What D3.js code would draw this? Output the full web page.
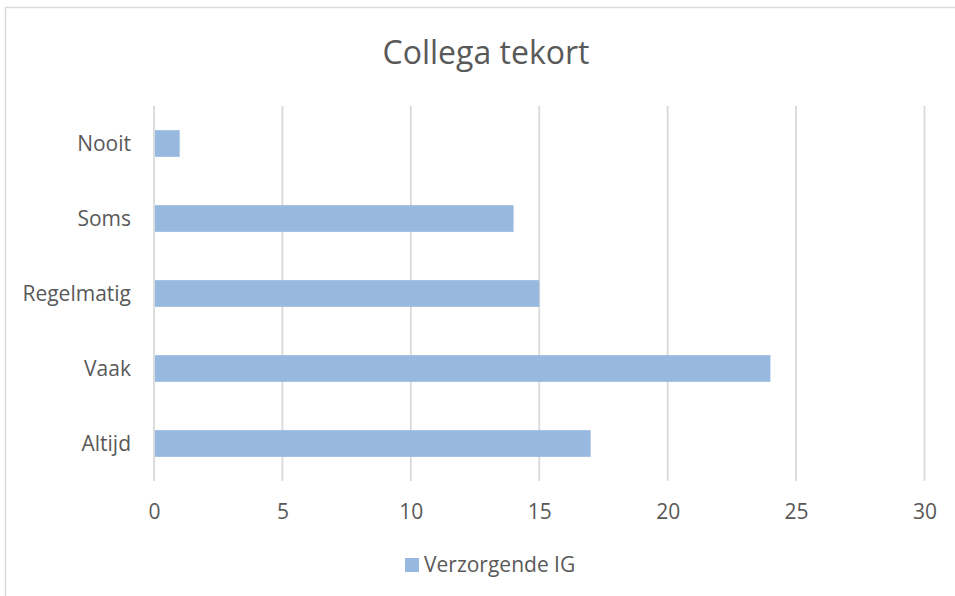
<!DOCTYPE html>
<html>
<head>
<meta charset="utf-8">
<script src="https://cdn.jsdelivr.net/npm/d3@7"></script>
<style>
  html, body { margin: 0; padding: 0; background: #fff; }
  svg { display: block; }
  text { font-family: "Open Sans", sans-serif; fill: #595959; }
</style>
</head>
<body>
<svg id="chart" width="955" height="596"></svg>
<script>
const title = "Collega tekort";
const categories = ["Nooit", "Soms", "Regelmatig", "Vaak", "Altijd"];
const seriesName = "Verzorgende IG";
const values = [1, 14, 15, 24, 17];
const xTicks = [0, 5, 10, 15, 20, 25, 30];

const svg = d3.select("#chart");
const W = 955, H = 596;
const margin = { left: 154, right: 955 - 924.5, top: 106, bottom: 596 - 481 };
const barColor = "#98b9df";
const gridColor = "#d9d9d9";

// outer border
svg.append("rect")
  .attr("x", 5.5).attr("y", 7.5)
  .attr("width", W + 10).attr("height", H + 10)
  .attr("fill", "#fff").attr("stroke", gridColor).attr("stroke-width", 1.5);

const x = d3.scaleLinear().domain([0, 30]).range([margin.left, W - margin.right]);
const y = d3.scaleBand().domain(categories).range([margin.top, H - margin.bottom]).paddingInner(0.644).paddingOuter(0.322);

// title
svg.append("text")
  .attr("x", 486).attr("y", 64)
  .attr("text-anchor", "middle")
  .attr("font-size", 32)
  .text(title);

// gridlines
svg.append("g").selectAll("line").data(xTicks).join("line")
  .attr("x1", d => x(d)).attr("x2", d => x(d))
  .attr("y1", margin.top).attr("y2", H - margin.bottom)
  .attr("stroke", gridColor).attr("stroke-width", 1.8);

// bars
svg.append("g").selectAll("rect").data(values).join("rect")
  .attr("x", x(0) + 1)
  .attr("y", (d, i) => y(categories[i]))
  .attr("width", d => x(d) - x(0) - 1)
  .attr("height", y.bandwidth())
  .attr("fill", barColor);

// x axis
const xAxis = d3.axisBottom(x).tickValues(xTicks).tickSize(0).tickPadding(0);
const gx = svg.append("g").attr("transform", `translate(0, ${H - margin.bottom})`).call(xAxis);
gx.select(".domain").remove();
gx.selectAll("text")
  .attr("font-size", 21)
  .attr("dy", null)
  .attr("y", 38)
  .style("font-family", "'Open Sans', sans-serif")
  .attr("fill", "#595959");

// y axis
const yAxis = d3.axisLeft(y).tickSize(0).tickPadding(0);
const gy = svg.append("g").attr("transform", `translate(${margin.left - 23}, 0)`).call(yAxis);
gy.select(".domain").remove();
gy.selectAll("text")
  .attr("font-size", 21)
  .attr("dy", "0.35em")
  .style("font-family", "'Open Sans', sans-serif")
  .attr("fill", "#595959");

// legend
const lg = svg.append("g");
lg.append("rect").attr("x", 405).attr("y", 558).attr("width", 14).attr("height", 14).attr("fill", barColor);
lg.append("text").attr("x", 424).attr("y", 572).attr("font-size", 21).text(seriesName);
</script>
</body>
</html>
